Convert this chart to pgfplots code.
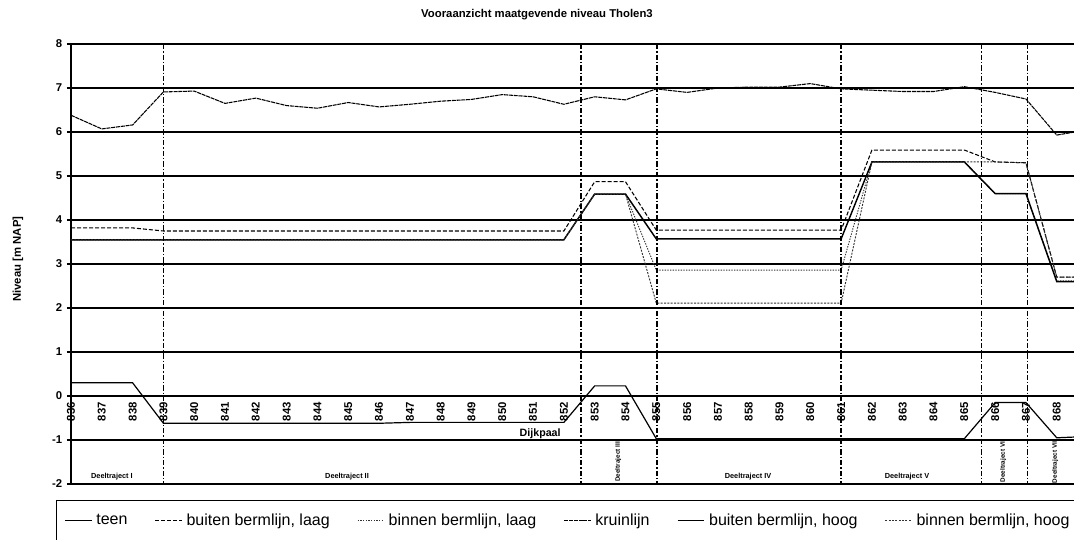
\documentclass[border=0pt]{standalone}
\usepackage{pgfplots}
\pgfplotsset{compat=1.18}
\usepackage{fontspec}
\setmainfont{Liberation Sans}

\begin{document}
\begin{tikzpicture}
\begin{axis}[
  scale only axis,
  width=752.25pt, height=330pt,
  at={(53.25pt,41.25pt)}, anchor=south west,
  xmin=836, xmax=868.56, ymin=-2, ymax=8,
  axis x line=middle, axis y line=left,
  axis line style={-},
  y axis line style={line width=1.3pt},
  x axis line style={line width=1pt},
  hide obscured x ticks=false,
  xtick={836,837,838,839,840,841,842,843,844,845,846,847,848,849,850,851,852,853,854,855,856,857,858,859,860,861,862,863,864,865,866,867,868},
  xticklabels={836,837,838,839,840,841,842,843,844,845,846,847,848,849,850,851,852,853,854,855,856,857,858,859,860,861,862,863,864,865,866,867,868},
  xticklabel style={rotate=90, anchor=east, font=\bfseries\fontsize{8.5}{9}\selectfont, inner sep=1.5pt},
  ytick={-2,-1,0,1,2,3,4,5,6,7,8},
  yticklabels={-2,-1,0,1,2,3,4,5,6,7,8},
  yticklabel style={font=\bfseries\fontsize{8.5}{9}\selectfont},
  y tick style={line width=1pt, black},
  x tick style={draw=none},
  tick align=outside,
  major tick length=3pt,
  ymajorgrids,
  grid style={black, line width=0.9pt},
  ylabel={Niveau [m NAP]},
  ylabel style={at={(axis description cs:-0.0528,0.511)}, anchor=center, font=\bfseries\fontsize{8.5}{10}\selectfont},
  title={Vooraanzicht maatgevende niveau Tholen3},
  every axis title shift=0pt,
  title style={at={(0.4646,1.066)}, anchor=center, font=\bfseries\fontsize{8.5}{10}\selectfont},
  legend columns=6,
  legend style={at={(-0.015,-0.0364)}, anchor=north west, draw=black, line width=0.8pt,
    font=\fontsize{12}{14}\selectfont, inner xsep=6pt, inner ysep=8pt,
    /tikz/every even column/.append style={column sep=18.5pt},
    /tikz/every odd column/.append style={column sep=1pt}},
  legend image code/.code={\draw[#1] (0pt,0pt) -- (20pt,0pt);},
  divider/.style={black, line width=1pt, dash pattern=on 4pt off 1.5pt on 1pt off 1.5pt, forget plot},
]
% teen
\addplot[black, line width=0.9pt] coordinates {
(836,0.3) (837,0.3) (838,0.3) (839,-0.62) (840,-0.62) (841,-0.62) (842,-0.62) (843,-0.62) (844,-0.62) (845,-0.62) (846,-0.62) (847,-0.6) (848,-0.6) (849,-0.6) (850,-0.6) (851,-0.6) (852,-0.6) (853,0.23) (854,0.23) (855,-0.97) (856,-0.97) (857,-0.97) (858,-0.97) (859,-0.97) (860,-0.97) (861,-0.97) (862,-0.97) (863,-0.97) (864,-0.97) (865,-0.97) (866,-0.15) (867,-0.15) (868,-0.95) (869,-0.92)};
\addlegendentry{teen}
% buiten bermlijn, laag
\addplot[black, line width=0.8pt, dash pattern=on 3pt off 1.5pt] coordinates {
(836,3.82) (837,3.82) (838,3.82) (839,3.75) (840,3.75) (841,3.75) (842,3.75) (843,3.75) (844,3.75) (845,3.75) (846,3.75) (847,3.75) (848,3.75) (849,3.75) (850,3.75) (851,3.75) (852,3.75) (853,4.87) (854,4.87) (855,3.77) (856,3.77) (857,3.77) (858,3.77) (859,3.77) (860,3.77) (861,3.77) (862,5.59) (863,5.59) (864,5.59) (865,5.59) (866,5.32) (867,5.30) (868,2.7) (869,2.7)};
\addlegendentry{buiten bermlijn, laag}
% binnen bermlijn, laag
\addplot[black!80, line width=0.7pt, dash pattern=on 1pt off 1pt] coordinates {
(836,3.55) (837,3.55) (838,3.55) (839,3.55) (840,3.55) (841,3.55) (842,3.55) (843,3.55) (844,3.55) (845,3.55) (846,3.55) (847,3.55) (848,3.55) (849,3.55) (850,3.55) (851,3.55) (852,3.55) (853,4.59) (854,4.59) (855,2.86) (856,2.86) (857,2.86) (858,2.86) (859,2.86) (860,2.86) (861,2.86) (862,5.32) (863,5.32) (864,5.32) (865,5.32) (866,4.6) (867,4.6) (868,2.62) (869,2.62)};
\addlegendentry{binnen bermlijn, laag}
% kruinlijn
\addplot[black, line width=0.8pt, dash pattern=on 3pt off 0.6pt] coordinates {
(836,6.38) (837,6.07) (838,6.16) (839,6.91) (840,6.93) (841,6.65) (842,6.77) (843,6.6) (844,6.54) (845,6.67) (846,6.57) (847,6.63) (848,6.7) (849,6.74) (850,6.85) (851,6.8) (852,6.63) (853,6.8) (854,6.73) (855,6.98) (856,6.9) (857,7.0) (858,7.02) (859,7.02) (860,7.1) (861,6.98) (862,6.95) (863,6.92) (864,6.92) (865,7.03) (866,6.9) (867,6.75) (868,5.93) (869,6.05)};
\addlegendentry{kruinlijn}
% buiten bermlijn, hoog
\addplot[black, line width=1.1pt] coordinates {
(836,3.55) (837,3.55) (838,3.55) (839,3.55) (840,3.55) (841,3.55) (842,3.55) (843,3.55) (844,3.55) (845,3.55) (846,3.55) (847,3.55) (848,3.55) (849,3.55) (850,3.55) (851,3.55) (852,3.55) (853,4.59) (854,4.59) (855,3.57) (856,3.57) (857,3.57) (858,3.57) (859,3.57) (860,3.57) (861,3.57) (862,5.32) (863,5.32) (864,5.32) (865,5.32) (866,4.6) (867,4.6) (868,2.6) (869,2.6)};
\addlegendentry{buiten bermlijn, hoog}
% binnen bermlijn, hoog
\addplot[black!80, line width=0.7pt, dash pattern=on 1.5pt off 1pt] coordinates {
(836,3.55) (837,3.55) (838,3.55) (839,3.55) (840,3.55) (841,3.55) (842,3.55) (843,3.55) (844,3.55) (845,3.55) (846,3.55) (847,3.55) (848,3.55) (849,3.55) (850,3.55) (851,3.55) (852,3.55) (853,4.59) (854,4.59) (855,2.11) (856,2.11) (857,2.11) (858,2.11) (859,2.11) (860,2.11) (861,2.11) (862,5.32) (863,5.32) (864,5.32) (865,5.32) (866,5.32) (867,5.30) (868,2.7) (869,2.7)};
\addlegendentry{binnen bermlijn, hoog}
% dividers
\addplot[divider] coordinates {(839,8) (839,-2)};
\addplot[divider] coordinates {(852.56,8) (852.56,-2)};
\addplot[divider] coordinates {(855.02,8) (855.02,-2)};
\addplot[divider] coordinates {(861,8) (861,-2)};
\addplot[divider] coordinates {(865.55,8) (865.55,-2)};
\addplot[divider] coordinates {(867.05,8) (867.05,-2)};
% annotations
\node[font=\bfseries\fontsize{8}{9}\selectfont, anchor=south, inner sep=1pt] at (axis cs:851.23,-1) {Dijkpaal};
\node[font=\bfseries\fontsize{5.5}{6}\selectfont, inner sep=0pt] at (axis cs:837.33,-1.84) {Deeltraject I};
\node[font=\bfseries\fontsize{5.5}{6}\selectfont, inner sep=0pt] at (axis cs:844.96,-1.84) {Deeltraject II};
\node[font=\bfseries\fontsize{4.8}{5}\selectfont, inner sep=0pt, rotate=90] at (axis cs:853.76,-1.5) {Deeltraject III};
\node[font=\bfseries\fontsize{5.5}{6}\selectfont, inner sep=0pt] at (axis cs:857.98,-1.84) {Deeltraject IV};
\node[font=\bfseries\fontsize{5.5}{6}\selectfont, inner sep=0pt] at (axis cs:863.14,-1.84) {Deeltraject V};
\node[font=\bfseries\fontsize{4.8}{5}\selectfont, inner sep=0pt, rotate=90] at (axis cs:866.26,-1.5) {Deeltraject VI};
\node[font=\bfseries\fontsize{4.8}{5}\selectfont, inner sep=0pt, rotate=90] at (axis cs:867.95,-1.5) {Deeltraject VII};
\end{axis}
\pgfresetboundingbox
\useasboundingbox (0pt,0pt) rectangle (805.5pt,404.25pt);
\end{tikzpicture}
\end{document}
